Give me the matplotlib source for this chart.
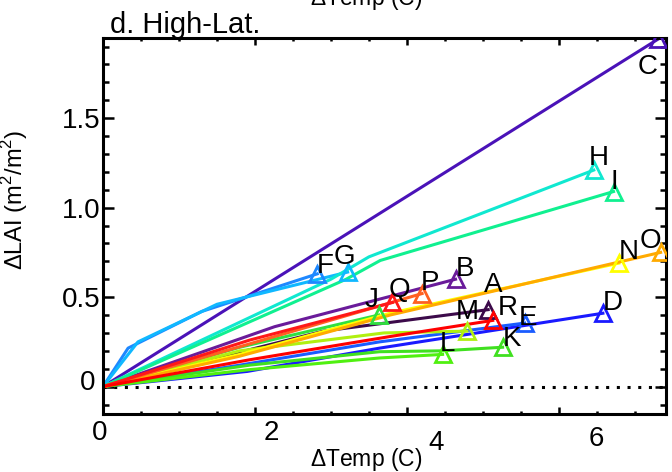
import matplotlib
matplotlib.use("Agg")
import matplotlib.pyplot as plt
import matplotlib.transforms as mtransforms
from matplotlib.ticker import MultipleLocator

# model letters and their (dTemp, dLAI) paths
models = ["A", "B", "C", "D", "E", "F", "G", "H", "I",
          "J", "K", "L", "M", "N", "O", "P", "Q", "R"]
dtemp = [
    [0, 2.9, 5.07],
    [0, 2.26, 4.64],
    [0, 7.3],
    [0, 1.9, 3.64, 6.58],
    [0, 1.8, 3.64, 5.55],
    [0, 0.33, 1.3, 2.82],
    [0, 0.46, 1.5, 3.22],
    [0, 3.0, 3.5, 6.46],
    [0, 3.2, 3.65, 6.72],
    [0, 1.8, 3.63],
    [0, 1.93, 3.64, 4.47, 5.26],
    [0, 1.93, 3.64, 4.47],
    [0, 1.8, 3.7, 4.79],
    [0, 1.8, 3.78, 6.79],
    [0, 1.8, 3.78, 7.34],
    [0, 4.2],
    [0, 1.93, 3.81],
    [0, 1.93, 3.78, 5.13],
]
dlai = [
    [0, 0.31, 0.43],
    [0, 0.335, 0.60],
    [0, 1.94],
    [0, 0.085, 0.215, 0.41],
    [0, 0.12, 0.25, 0.355],
    [0, 0.215, 0.42, 0.63],
    [0, 0.25, 0.46, 0.64],
    [0, 0.60, 0.725, 1.21],
    [0, 0.60, 0.705, 1.09],
    [0, 0.22, 0.40],
    [0, 0.12, 0.195, 0.20, 0.22],
    [0, 0.095, 0.16, 0.18],
    [0, 0.20, 0.30, 0.31],
    [0, 0.18, 0.41, 0.69],
    [0, 0.17, 0.40, 0.75],
    [0, 0.52],
    [0, 0.26, 0.47],
    [0, 0.15, 0.28, 0.37],
]

colors = ["#3c0a4a", "#6a1b9a", "#4a12b8", "#1a1aff", "#1a5cff", "#1e88ff",
          "#10b8ff", "#10e8d0", "#10f090", "#30e040", "#40e020", "#50f010",
          "#b0f010", "#ffff00", "#ffaa00", "#ff6020", "#ff1818", "#ff0000"]
# letter offsets from the end marker, in pixels (right, down)
label_off = [(5, -25), (9, -10), (-10, 28), (10, -10), (3, -5), (8, -8),
             (-3, -15), (5, -12), (1, -10), (-7, -15), (9, -8), (5, -10),
             (0, -19), (10, -11), (-10, -11), (8, -11), (7, -12), (15, -12)]

plt.rcParams["font.family"] = ["Liberation Sans", "DejaVu Sans"]
plt.rcParams["mathtext.fontset"] = "custom"
plt.rcParams["mathtext.rm"] = "Liberation Sans"

fig = plt.figure(figsize=(6.72, 4.72), dpi=100)
ax = fig.add_axes([0.1533, 0.1229, 0.8377, 0.7966])

ax.axhline(0, color="k", lw=2.2, ls=(0, (1, 2.5)), zorder=1)

for name, xs, ys, c, (dx, dy) in zip(models, dtemp, dlai, colors, label_off):
    ax.plot(xs, ys, color=c, lw=2.2, zorder=2)
    ax.plot(xs[-1], ys[-1], marker="^", ms=12, mfc="none", mec=c, mew=2, zorder=3)
    ax.annotate(name, (xs[-1], ys[-1]), xytext=(dx * 0.72, -dy * 0.72),
                textcoords="offset points", ha="center", va="center",
                fontsize=20, annotation_clip=False, zorder=4)

ax.set_xlim(0, 7.41)
ax.set_ylim(-0.153, 1.948)
ax.set_xticks([0, 2, 4, 6])
ax.set_xticklabels(["0", "2", "4", "6"])
ax.set_yticks([0, 0.5, 1.0, 1.5])
ax.set_yticklabels(["0", "0.5", "1.0", "1.5"])
ax.xaxis.set_minor_locator(MultipleLocator(0.5))
ax.yaxis.set_minor_locator(MultipleLocator(0.1))
ax.tick_params(axis="both", which="both", direction="in", top=True, right=True,
               width=1.8, labelsize=20)
ax.tick_params(axis="x", which="major", length=5, pad=4)
ax.tick_params(axis="x", which="minor", length=2.5)
ax.tick_params(axis="y", which="major", length=8, pad=2)
ax.tick_params(axis="y", which="minor", length=4.3)
for sp in ax.spines.values():
    sp.set_linewidth(2.2)

ax.set_xlabel(r"$\Delta$Temp (C)", fontsize=16.5)
ax.xaxis.set_label_coords(0.467, -0.085)
ax.set_ylabel(r"$\Delta$LAI (m$^2$/m$^2$)", fontsize=17)
ax.yaxis.set_label_coords(-0.13, 0.57)

ax.text(0.0124, 1.013, "d. High-Lat.", transform=ax.transAxes,
        fontsize=21, ha="left", va="baseline")
# bottom of the x label from the panel above, cut by the figure edge
fig.text(310 / 672, 1 - 5 / 472, r"$\Delta$Temp (C)", fontsize=16.5,
         ha="left", va="baseline")

# the x tick labels sit shifted in the original
x_shift = [(-3, 0), (16, 0), (29, -10), (37, -6)]
for lab, (sx, sy) in zip(ax.get_xticklabels(), x_shift):
    lab.set_transform(lab.get_transform() +
                      mtransforms.ScaledTranslation(sx / 100, sy / 100, fig.dpi_scale_trans))
ylabs = ax.get_yticklabels()
ylabs[0].set_transform(ylabs[0].get_transform() +
                       mtransforms.ScaledTranslation(-5 / 100, 7 / 100, fig.dpi_scale_trans))

fig.savefig("out.png", dpi=100)
